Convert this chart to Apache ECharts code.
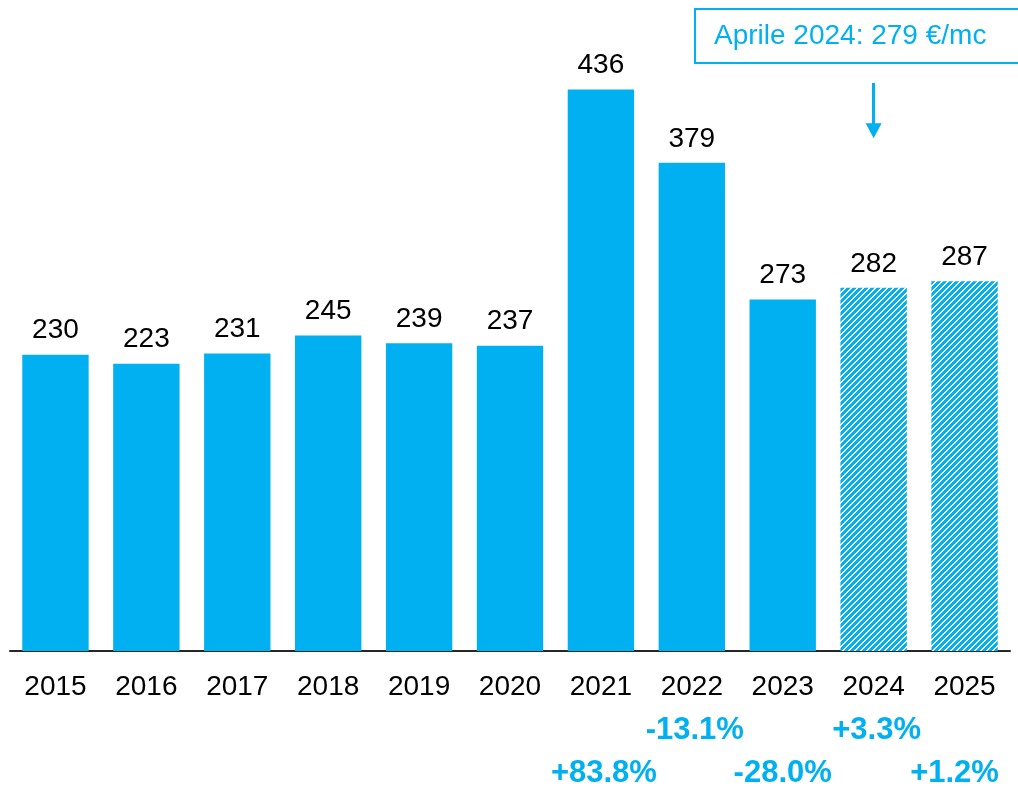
<!DOCTYPE html>
<html>
<head>
<meta charset="utf-8">
<script src="https://cdn.jsdelivr.net/npm/echarts@6/dist/echarts.min.js"></script>
<style>
  html, body { margin: 0; padding: 0; background: #ffffff; }
  #chart { width: 1018px; height: 789px; }
</style>
</head>
<body>
<div id="chart"></div>
<script>
// Prezzi medi annui (€/mc) e variazioni percentuali
const years = ['2015', '2016', '2017', '2018', '2019', '2020', '2021', '2022', '2023', '2024', '2025'];
const prices = [230, 223, 231, 245, 239, 237, 436, 379, 273, 282, 287];
const forecast = [false, false, false, false, false, false, false, false, false, true, true];
const changeLabels = ['', '', '', '', '', '', '+83.8%', '-13.1%', '-28.0%', '+3.3%', '+1.2%'];
const changeRows = [0, 0, 0, 0, 0, 0, 2, 1, 2, 1, 2];
const noteText = 'Aprile 2024: 279 €/mc';
const noteYear = '2024';
const noteArrow = [441, 404];

// Horizontal nudge (px) of each change label relative to its category centre
const changeNudge = [0, 0, 0, 0, 0, 0, 3, 3, 0, 3, -10];

const BLUE = '#00B0F0';
const FONT = '"Liberation Sans", Arial, sans-serif';

// Diagonal hatch tile for forecast bars
function hatchTile() {
  const c = document.createElement('canvas');
  const n = 6;
  c.width = n; c.height = n;
  const ctx = c.getContext('2d');
  ctx.fillStyle = '#ffffff';
  ctx.fillRect(0, 0, n, n);
  ctx.fillStyle = BLUE;
  for (let y = 0; y < n; y++) {
    for (let x = 0; x < n; x++) {
      if ((x + y) % n < 4) ctx.fillRect(x, y, 1, 1);
    }
  }
  return c;
}
const hatch = { image: hatchTile(), repeat: 'repeat' };

const chart = echarts.init(document.getElementById('chart'), null, { renderer: 'canvas' });

const barData = prices.map((v, i) => ({
  value: v,
  itemStyle: { color: forecast[i] ? hatch : BLUE }
}));

// Rich styles: one per category so each change label can be nudged sideways
const rich = {
  y: { fontFamily: FONT, fontSize: 28, color: '#000000', lineHeight: 44 },
  e: { fontFamily: FONT, fontSize: 31, color: BLUE, lineHeight: 43 }
};
changeNudge.forEach((d, i) => {
  rich['p' + i] = {
    fontFamily: FONT, fontSize: 31, fontWeight: 'bold', color: BLUE, lineHeight: 43,
    padding: d >= 0 ? [0, 0, 0, 2 * d] : [0, -2 * d, 0, 0]
  };
});

chart.setOption({
  animation: false,
  backgroundColor: '#ffffff',
  grid: { left: 10, right: 8, top: 7, bottom: 138, containLabel: false, outerBoundsMode: 'none' },
  xAxis: {
    type: 'category',
    data: years,
    axisLine: { show: true, lineStyle: { color: '#262626', width: 2 } },
    axisTick: { show: false },
    axisLabel: {
      interval: 0,
      margin: 14,
      hideOverlap: false,
      formatter: function (val, idx) {
        const rows = ['{y|' + val + '}', '{e|\u00a0}', '{e|\u00a0}'];
        if (changeRows[idx]) rows[changeRows[idx]] = '{p' + idx + '|' + changeLabels[idx] + '}';
        return rows.join('\n');
      },
      rich: rich
    }
  },
  yAxis: {
    type: 'value',
    min: 0,
    max: 500,
    show: false,
    splitLine: { show: false }
  },
  series: [{
    type: 'bar',
    data: barData,
    barCategoryGap: '27%',
    label: {
      show: true,
      position: 'top',
      distance: 10,
      fontFamily: FONT,
      fontSize: 28,
      color: '#000000'
    },
    markLine: {
      silent: true,
      symbol: ['none', 'triangle'],
      symbolSize: [16, 15],
      label: { show: false },
      lineStyle: { color: BLUE, width: 3, type: 'solid' },
      data: [[
        { coord: [noteYear, noteArrow[0]] },
        { coord: [noteYear, noteArrow[1]] }
      ]]
    }
  }],
  graphic: [{
    type: 'group',
    left: 694,
    top: 8,
    children: [{
      type: 'rect',
      shape: { x: 0, y: 0, width: 340, height: 54 },
      style: { fill: '#ffffff', stroke: BLUE, lineWidth: 2 }
    }, {
      type: 'text',
      x: 19,
      y: 27,
      style: {
        text: noteText,
        fontFamily: FONT,
        fontSize: 28,
        fill: BLUE,
        verticalAlign: 'middle',
        align: 'left'
      }
    }]
  }]
});
</script>
</body>
</html>
